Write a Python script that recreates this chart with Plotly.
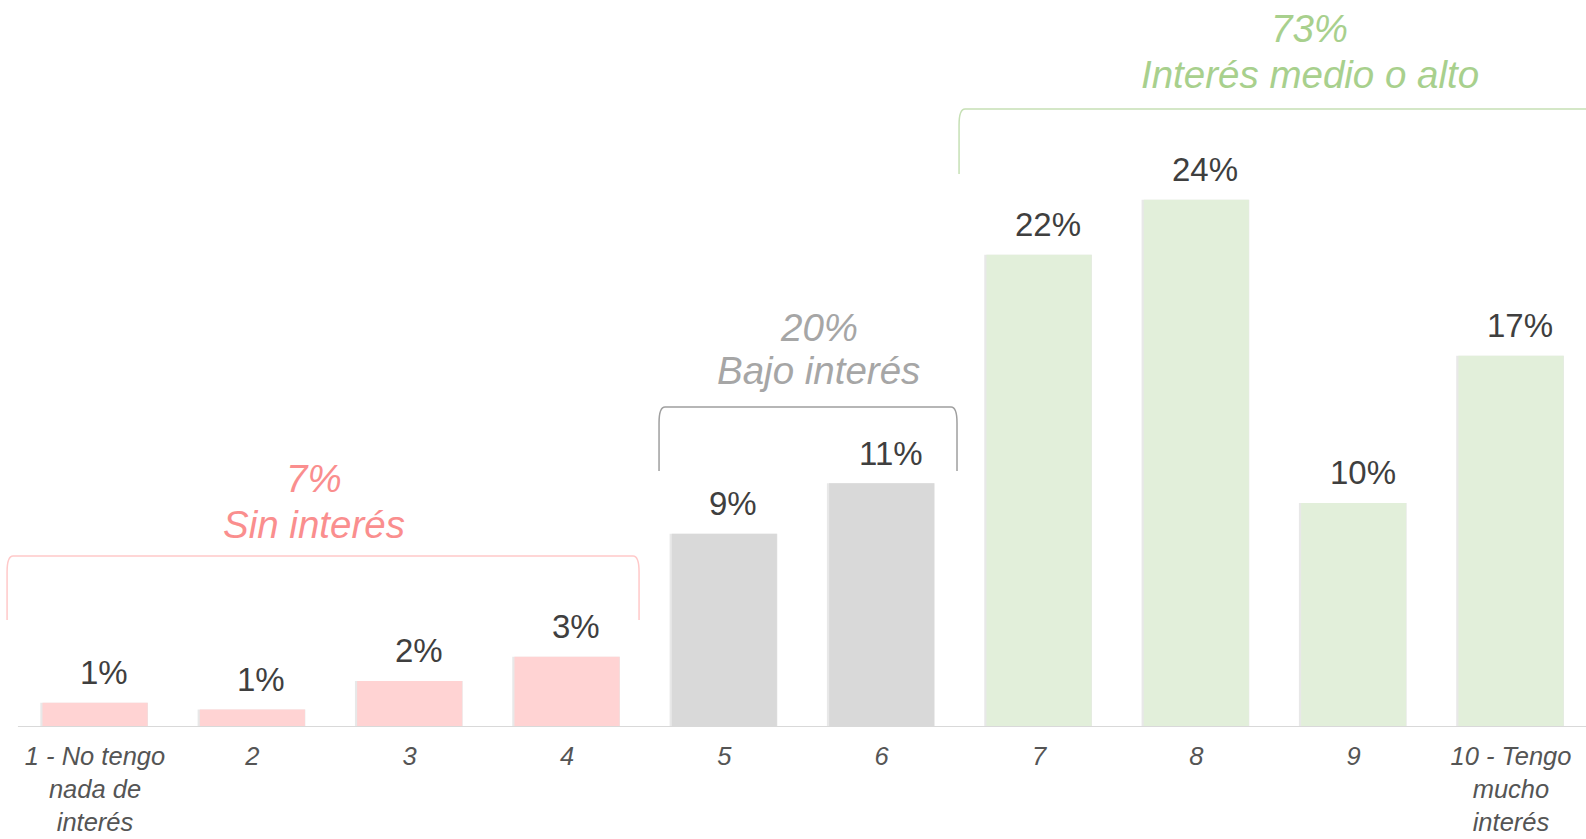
import plotly.graph_objects as go

# ---------------- data ----------------
categories = ["1 - No tengo<br>nada de<br>interés", "2", "3", "4", "5", "6", "7", "8", "9",
              "10 - Tengo<br>mucho<br>interés"]
values = [1.1, 0.8, 2.1, 3.2, 8.8, 11.1, 21.5, 24.0, 10.2, 16.9]
value_labels = ["1%", "1%", "2%", "3%", "9%", "11%", "22%", "24%", "10%", "17%"]
group_of_bar = ["sin", "sin", "sin", "sin", "bajo", "bajo", "alto", "alto", "alto", "alto"]
group_pct = {"sin": "7%", "bajo": "20%", "alto": "73%"}
group_name = {"sin": "Sin interés", "bajo": "Bajo interés", "alto": "Interés medio o alto"}

# ---------------- styles ----------------
bar_colors = {"sin": "#FFD3D3", "bajo": "#D9D9D9", "alto": "#E2EFDA"}
text_colors = {"sin": "#FA8E8E", "bajo": "#A6A6A6", "alto": "#A8D08D"}
line_colors = {"sin": "#FFC9C9", "bajo": "#9F9F9F", "alto": "#C6E0B5"}
FONT = "Liberation Sans, Arial, Helvetica, sans-serif"

W, H = 1586, 839
PLOT_H = 727
Y_TOP = 33.1
X_RANGE = [-0.604, 9.477]

# bracket geometry (data units): x0, x1, y_top, y_bottom
brackets = {
    "sin": (-0.559, 3.458, 7.79, 4.87),
    "bajo": (3.585, 5.479, 14.57, 11.66),
    "alto": (5.492, 9.7, 28.14, 25.18),
}
# group text position (x center, y of pct line, y of name line)
group_text_pos = {
    "sin": (1.395, 11.31, 9.22),
    "bajo": (4.60, 18.17, 16.21),
    "alto": (7.72, 31.79, 29.70),
}

xpos = list(range(len(categories)))

fig = go.Figure()

# soft shadow behind bars
fig.add_trace(go.Bar(
    x=xpos, y=values, width=0.685, offset=-0.348,
    marker=dict(color="rgba(0,0,0,0.09)", line=dict(width=0)),
    hoverinfo="skip", showlegend=False,
))
fig.add_trace(go.Bar(
    x=xpos, y=values, width=0.668,
    marker=dict(color=[bar_colors[g] for g in group_of_bar], line=dict(width=0)),
    showlegend=False,
))

annotations = []
for xi, v, t in zip(xpos, values, value_labels):
    annotations.append(dict(
        x=xi, y=v, text=t, showarrow=False, xref="x", yref="y",
        yshift=30, xshift=9, yanchor="middle",
        font=dict(family=FONT, size=33, color="#3F3F3F"),
    ))

shapes = []
# baseline
shapes.append(dict(type="line", xref="x", yref="y", x0=-0.49, x1=9.6, y0=0, y1=0,
                   line=dict(color="#D9D9D9", width=2), layer="above"))

px_per_unit_x = W / (X_RANGE[1] - X_RANGE[0])
px_per_unit_y = PLOT_H / Y_TOP
rx = 6 / px_per_unit_x
ry = 16 / px_per_unit_y
for g, (x0, x1, yt, yb) in brackets.items():
    path = (f"M {x0},{yb} L {x0},{yt - ry} Q {x0},{yt} {x0 + rx},{yt} "
            f"L {x1 - rx},{yt} Q {x1},{yt} {x1},{yt - ry} L {x1},{yb}")
    shapes.append(dict(type="path", xref="x", yref="y", path=path,
                       line=dict(color=line_colors[g], width=1.5)))
    xc, yp, yn = group_text_pos[g]
    annotations.append(dict(x=xc, y=yp, xref="x", yref="y", text=f"<i>{group_pct[g]}</i>",
                            showarrow=False, yanchor="middle",
                            font=dict(family=FONT, size=38.5, color=text_colors[g])))
    annotations.append(dict(x=xc, y=yn, xref="x", yref="y", text=f"<i>{group_name[g]}</i>",
                            showarrow=False, yanchor="middle",
                            font=dict(family=FONT, size=38.5, color=text_colors[g])))

fig.update_layout(
    width=W, height=H,
    margin=dict(l=0, r=0, t=0, b=H - PLOT_H, pad=0, autoexpand=False),
    plot_bgcolor="white", paper_bgcolor="white",
    barmode="overlay",
    xaxis=dict(
        range=X_RANGE, showgrid=False, zeroline=False, showline=False, automargin=False,
        ticks="", tickfont=dict(family=FONT, size=25.5, color="#555555"),
        ticklabelstandoff=11,
        tickmode="array", tickvals=xpos, ticktext=[f"<i>{c}</i>" for c in categories],
    ),
    yaxis=dict(range=[0, Y_TOP], visible=False, automargin=False),
    annotations=annotations,
    shapes=shapes,
)

fig.write_html("out.html", config={"displayModeBar": False},
               post_script="document.body.style.margin='0';document.body.style.overflow='hidden';")
